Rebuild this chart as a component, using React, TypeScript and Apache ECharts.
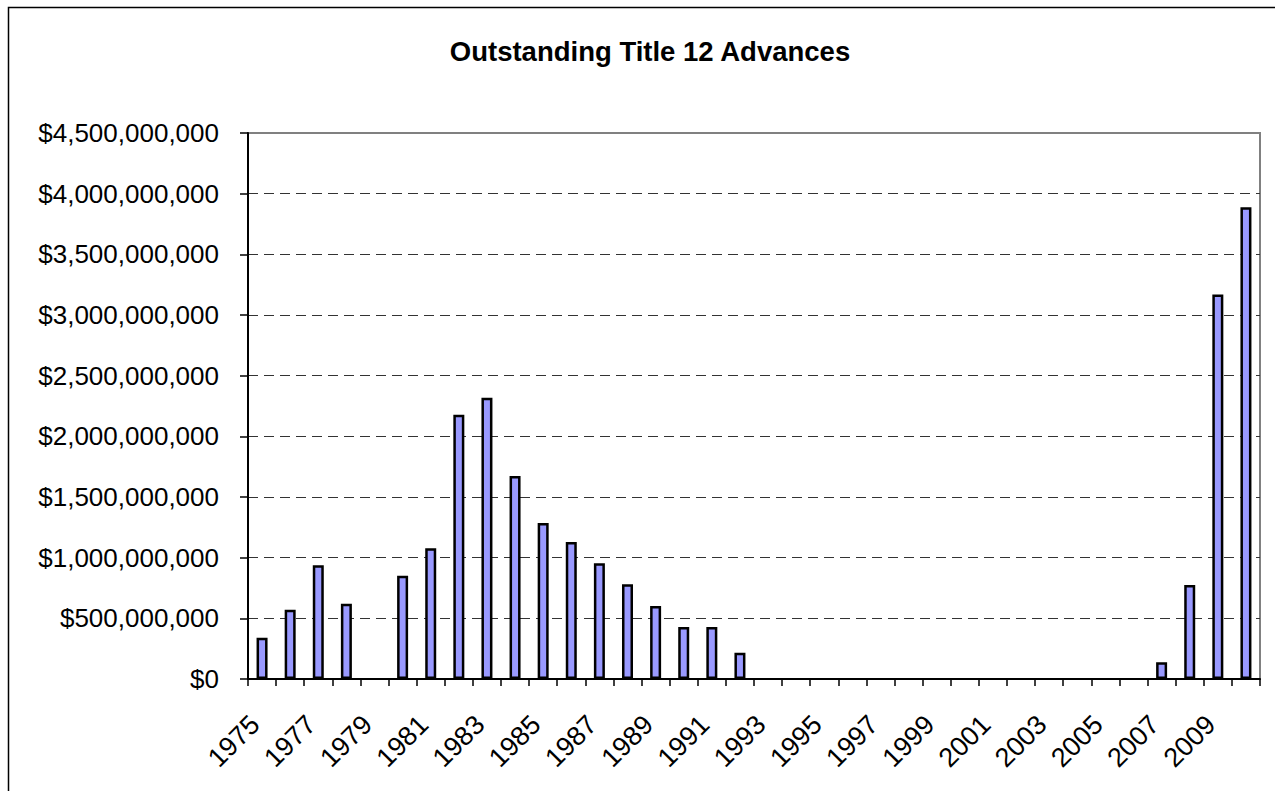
import React, { useEffect, useRef } from "react";
import * as echarts from "echarts";

const years: string[] = [
  "1975", "1976", "1977", "1978", "1979", "1980", "1981", "1982", "1983",
  "1984", "1985", "1986", "1987", "1988", "1989", "1990", "1991", "1992",
  "1993", "1994", "1995", "1996", "1997", "1998", "1999", "2000", "2001",
  "2002", "2003", "2004", "2005", "2006", "2007", "2008", "2009", "2010",
];

const advances: number[] = [
  340000000, 570000000, 937000000, 620000000, 0, 850000000, 1077000000,
  2178000000, 2318000000, 1673000000, 1286000000, 1129000000, 953000000,
  780000000, 602000000, 429000000, 429000000, 217000000,
  0, 0, 0, 0, 0, 0, 0, 0, 0, 0, 0, 0, 0, 0,
  138000000, 774000000, 3168000000, 3888000000,
];

const titleText = "Outstanding Title 12 Advances";
const yMin = 0;
const yMax = 4500000000;
const yStep = 500000000;

const FONT = "'Liberation Sans', Arial, sans-serif";

function money(v: number): string {
  return "$" + Math.round(v).toString().replace(/\B(?=(\d{3})+(?!\d))/g, ",");
}

export default function App() {
  const ref = useRef<HTMLDivElement>(null);
  useEffect(() => {
    if (!ref.current) return;
    const chart = echarts.init(ref.current, undefined, { renderer: "svg" });
    chart.setOption({
      animation: false,
      backgroundColor: "#ffffff",
      title: {
        text: titleText,
        left: 645,
        top: 32,
        textAlign: "center",
        textStyle: {
          fontFamily: FONT,
          fontWeight: "bold",
          fontSize: 27.5,
          color: "#000000",
        },
      },
      graphic: [
        {
          type: "rect",
          shape: { x: 8.5, y: 7.5, width: 1300, height: 900 },
          style: { fill: "none", stroke: "#000000", lineWidth: 1.5 },
          silent: true,
          z: -10,
        },
      ],
      grid: {
        left: 248,
        right: 15,
        top: 133,
        bottom: 112,
        show: true,
        borderColor: "#808080",
        borderWidth: 2,
        backgroundColor: "transparent",
      },
      xAxis: {
        type: "category",
        data: years,
        boundaryGap: true,
        z: 3,
        axisLine: { show: true, lineStyle: { color: "#000000", width: 2 } },
        axisTick: {
          show: true,
          interval: 0,
          length: 7,
          inside: false,
          lineStyle: { color: "#000000", width: 1.5 },
        },
        axisLabel: {
          interval: 1,
          rotate: 45,
          margin: 34,
          padding: [0, 10, 0, 0],
          fontFamily: FONT,
          fontSize: 27,
          color: "#000000",
        },
        splitLine: { show: false },
      },
      yAxis: {
        type: "value",
        min: yMin,
        max: yMax,
        interval: yStep,
        axisLine: { show: true, lineStyle: { color: "#000000", width: 2 } },
        axisTick: {
          show: true,
          length: 8,
          inside: false,
          lineStyle: { color: "#000000", width: 1.5 },
        },
        axisLabel: {
          margin: 29,
          fontFamily: FONT,
          fontSize: 26,
          color: "#000000",
          formatter: (v: number) => money(v),
        },
        splitLine: {
          show: true,
          showMinLine: false,
          showMaxLine: false,
          lineStyle: { color: "#333333", width: 1, type: [10, 6] },
        },
      },
      series: [
        {
          type: "bar",
          data: advances.map((v) => (v === 0 ? null : v)),
          barWidth: 11,
          itemStyle: {
            color: "#9999FF",
            borderColor: "#000000",
            borderWidth: 2.5,
          },
        },
      ],
    });
    return () => chart.dispose();
  }, []);
  return (
    <div
      ref={ref}
      style={{ position: "fixed", left: 0, top: 0, width: 1275, height: 791 }}
    />
  );
}
